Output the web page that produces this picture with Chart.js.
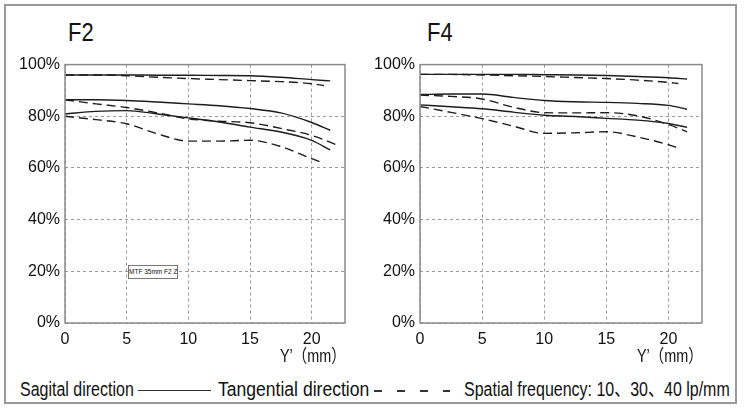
<!DOCTYPE html>
<html>
<head>
<meta charset="utf-8">
<script src="https://cdn.jsdelivr.net/npm/chart.js@4.4.1/dist/chart.umd.min.js"></script>
<style>
  body { margin: 0; width: 745px; height: 412px; background: #fff; position: relative; overflow: hidden;
         font-family: "Liberation Sans", Arial, "Noto Sans CJK JP", sans-serif; color: #111; }
  .frame { position: absolute; left: 4px; top: 4px; width: 733px; height: 400px; border: 2px solid #9a9a9a; box-sizing: border-box; }
  .title { position: absolute; top: 20px; font-size: 25px; line-height: 25px; transform: scaleX(0.88); transform-origin: 0 0; }
  .axis-name { position: absolute; top: 347px; font-size: 18px; line-height: 18px; transform: scaleX(0.8); transform-origin: 0 0; white-space: nowrap; }
  .legend { position: absolute; top: 380px; font-size: 19.5px; line-height: 19.5px; white-space: nowrap; transform: scaleX(0.82); transform-origin: 0 0; }
  .wrap { position: absolute; top: 50px; width: 360px; height: 300px; }
  .note { position: absolute; left: 128px; top: 265px; width: 50px; height: 14px; border: 1px solid #777;
          box-sizing: border-box; font-size: 6.5px; line-height: 12px; text-align: center; background: #fff; white-space: nowrap; }
</style>
</head>
<body>
<div class="frame"></div>
<div class="title" style="left:68px">F2</div>
<div class="title" style="left:427px">F4</div>
<div class="wrap" style="left:0px"><canvas id="c-f2" width="360" height="300"></canvas></div>
<div class="wrap" style="left:355px"><canvas id="c-f4" width="360" height="300"></canvas></div>
<div class="note">MTF 35mm F2 Z</div>
<div class="axis-name" style="left:280px">Y’（mm）</div>
<div class="axis-name" style="left:637px">Y’（mm）</div>
<div class="legend" style="left:20px">Sagital direction</div>
<div style="position:absolute;left:138px;top:390px;width:73px;height:0;border-top:1.5px solid #333"></div>
<div class="legend" style="left:218px;transform:scaleX(0.9)">Tangential direction</div>
<div style="position:absolute;left:374px;top:390px;width:76px;height:1.5px;background:repeating-linear-gradient(to right,#333 0 8px,transparent 8px 23px)"></div>
<div class="legend" style="left:464px">Spatial frequency: 10、30、40 lp/mm</div>

<script>
// image height Y' (mm)
const sagX = [0, 2.5, 5, 7.5, 10, 12.5, 15, 17.5, 20, 21.5];
const f2TanX10 = [0, 2.5, 5, 7.5, 10, 12.5, 15, 17.5, 20, 21];
const f2TanX30 = [0, 2.5, 5, 7.5, 10, 12.5, 15, 17.5, 20, 22];
const f2TanX40 = [0, 2.5, 5, 7.5, 10, 12.5, 15, 17.5, 20, 20.8];
const f4TanX10 = [0, 2.5, 5, 7.5, 10, 12.5, 15, 17.5, 20, 20.8];
const f4TanX30 = [0, 2.5, 5, 7.5, 10, 12.5, 15, 17.5, 20, 21.5];
const f4TanX40 = [0, 2.5, 5, 7.5, 10, 12.5, 15, 17.5, 20, 20.8];

// MTF (%) F2
const f2Sag10 = [96, 96, 96, 95.9, 95.9, 95.8, 95.7, 95.1, 94.2, 93.7];
const f2Tan10 = [96, 96, 95.7, 95.1, 94.6, 94.2, 93.8, 93.4, 92.6, 91.9];
const f2Sag30 = [86.4, 86.4, 86.1, 85.5, 84.8, 84.1, 83.0, 81.3, 77.6, 74.6];
const f2Tan30 = [86.4, 84.8, 83.4, 81.3, 79.0, 78.1, 77.5, 75.3, 72.6, 69.0];
const f2Sag40 = [80.9, 81.9, 82.2, 80.9, 79.4, 77.8, 75.8, 73.9, 70.7, 67.0];
const f2Tan40 = [80, 78.7, 77.1, 73.2, 70.4, 70.4, 70.7, 68.3, 63.6, 62.2];

// MTF (%) F4
const f4Sag10 = [96.2, 96.2, 96.2, 96.2, 96.1, 96, 95.8, 95.4, 94.9, 94.4];
const f4Tan10 = [96.2, 96.2, 96, 95.7, 95.4, 95, 94.6, 94, 93.1, 92.7];
const f4Sag30 = [88.4, 88.6, 88.6, 87.3, 86.1, 85.6, 85.4, 85.0, 84.2, 82.7];
const f4Tan30 = [88.2, 87.7, 86.7, 83.5, 81.4, 81.3, 81.4, 80.2, 76.8, 74.0];
const f4Sag40 = [84.4, 83.7, 82.9, 81.6, 80.4, 79.9, 79.2, 78.5, 77.2, 75.7];
const f4Tan40 = [83.8, 81.5, 79.1, 76.2, 73.4, 73.6, 74.0, 72.0, 69.0, 67.7];

const xTicks = [0, 5, 10, 15, 20];
const yTicks = [0, 20, 40, 60, 80, 100];

const FONT = '"Liberation Sans", Arial, sans-serif';

const toPoints = (xs, ys) => xs.map((x, i) => ({ x: x, y: ys[i] }));

const line = (xs, ys, dashed) => ({
  data: toPoints(xs, ys),
  borderColor: '#1c1c1c',
  borderWidth: 1.4,
  borderDash: dashed ? [9, 5] : [],
  pointRadius: 0,
  fill: false,
  cubicInterpolationMode: 'monotone'
});

// box round the plot area
const boxPlugin = {
  id: 'box',
  afterDraw(chart) {
    const a = chart.chartArea;
    const ctx = chart.ctx;
    ctx.save();
    ctx.strokeStyle = '#8a8a8a';
    ctx.lineWidth = 1.5;
    ctx.strokeRect(a.left, a.top, a.right - a.left, a.bottom - a.top);
    ctx.restore();
  }
};

const makeConfig = (datasets, padRight) => ({
  type: 'line',
  data: { datasets: datasets },
  options: {
    responsive: false,
    animation: false,
    layout: { padding: { top: 13, right: padRight, left: 0, bottom: 0 } },
    plugins: { legend: { display: false }, tooltip: { enabled: false } },
    scales: {
      x: {
        type: 'linear',
        min: 0,
        max: 22.7,
        afterFit: (s) => { s.height = 27; },
        afterBuildTicks: (s) => { s.ticks = xTicks.map(v => ({ value: v })); },
        ticks: { color: '#111', font: { family: FONT, size: 16 }, padding: 7, maxRotation: 0 },
        grid: { color: '#9a9a9a', lineWidth: 1, drawTicks: false },
        border: { display: false, dash: [3, 3] }
      },
      y: {
        min: 0,
        max: 100,
        afterFit: (s) => { s.width = 65; },
        afterBuildTicks: (s) => { s.ticks = yTicks.map(v => ({ value: v })); },
        ticks: { color: '#111', font: { family: FONT, size: 16 }, padding: 5, callback: (v) => v + '%' },
        grid: { color: '#9a9a9a', lineWidth: 1, drawTicks: false },
        border: { display: false, dash: [3, 3] }
      }
    }
  },
  plugins: [boxPlugin]
});

const chartF2 = new Chart(
  document.getElementById('c-f2'),
  makeConfig([
    line(sagX, f2Sag10, false),
    line(f2TanX10, f2Tan10, true),
    line(sagX, f2Sag30, false),
    line(f2TanX30, f2Tan30, true),
    line(sagX, f2Sag40, false),
    line(f2TanX40, f2Tan40, true)
  ], 15)
);

const chartF4 = new Chart(
  document.getElementById('c-f4'),
  makeConfig([
    line(sagX, f4Sag10, false),
    line(f4TanX10, f4Tan10, true),
    line(sagX, f4Sag30, false),
    line(f4TanX30, f4Tan30, true),
    line(sagX, f4Sag40, false),
    line(f4TanX40, f4Tan40, true)
  ], 13)
);
</script>
</body>
</html>
